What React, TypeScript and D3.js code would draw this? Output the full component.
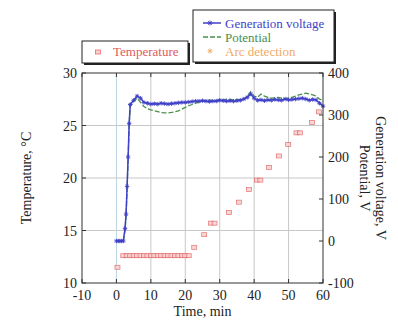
import React from 'react';
import * as d3 from 'd3';

// Temperature readings (°C)
const tempTime = [0.3, 2, 3, 4, 5, 6, 7, 8, 9, 10, 11, 12, 13, 14, 15, 16, 17, 18, 19, 20, 21, 22.6, 25.5, 27.5, 28.5, 32.7, 35.6, 38.5, 40.8, 41.8, 44.3, 47.2, 49.9, 52.3, 53.3, 56.8, 58.8];
const tempValue = [11.5, 12.6, 12.6, 12.6, 12.6, 12.6, 12.6, 12.6, 12.6, 12.6, 12.6, 12.6, 12.6, 12.6, 12.6, 12.6, 12.6, 12.6, 12.6, 12.6, 12.6, 13.4, 14.6, 15.7, 15.7, 16.7, 17.7, 18.9, 19.8, 19.8, 21.0, 22.1, 23.2, 24.3, 24.3, 25.3, 26.3];

// Voltage readings (V)
const voltTime = [0, 0.5, 1, 1.5, 2, 2.5, 2.8, 3.1, 3.4, 3.7, 4, 5, 6, 7, 8, 9, 10, 11, 12, 13, 14, 15, 16, 17, 18, 19, 20, 21, 22, 23, 24, 25, 26, 27, 28, 29, 30, 31, 32, 33, 34, 35, 36, 37, 38, 39, 40, 41, 42, 43, 44, 45, 46, 47, 48, 49, 50, 51, 52, 53, 54, 55, 56, 57, 58, 59, 60];
const generationVoltage = [0, 0, 0, 0, 0, 30, 64, 130, 200, 280, 325, 335, 345, 340, 330, 328, 326, 327, 326, 328, 327, 326, 327, 328, 329, 330, 330, 331, 332, 333, 333, 334, 333, 332, 333, 333, 335, 334, 333, 334, 333, 334, 335, 338, 342, 350, 340, 335, 336, 334, 336, 335, 337, 336, 335, 338, 336, 337, 338, 339, 340, 338, 335, 337, 336, 328, 321];
const potential = [0, 0, 0, 0, 0, 25, 60, 125, 195, 275, 320, 332, 340, 330, 320, 315, 312, 310, 308, 306, 305, 305, 306, 308, 310, 314, 318, 322, 325, 328, 330, 333, 335, 336, 334, 335, 337, 336, 338, 337, 336, 337, 336, 338, 345, 355, 345, 342, 350, 345, 342, 340, 341, 342, 340, 339, 341, 342, 345, 348, 350, 352, 350, 348, 345, 338, 334];

const xTicks = [-10, 0, 10, 20, 30, 40, 50, 60];
const leftTicks = [10, 15, 20, 25, 30];
const rightTicks = [-100, 0, 100, 200, 300, 400];

const RED = '#e05a5a';
const BLUE = '#3f3fc8';
const GREEN = '#4a8f4a';
const ORANGE = '#f0aa66';
const FONT = "'Liberation Serif', 'Times New Roman', 'DejaVu Serif', serif";

const App = () => {
  const W = 398;
  const H = 322;
  const m = { left: 82, right: 323, top: 73, bottom: 283 };

  const x = d3.scaleLinear().domain([-10, 60]).range([m.left, m.right]);
  const yT = d3.scaleLinear().domain([10, 30]).range([m.bottom, m.top]);
  const yV = d3.scaleLinear().domain([-100, 400]).range([m.bottom, m.top]);

  const genLine = d3.line<number>().x((_, i) => x(voltTime[i])).y(d => yV(d))(generationVoltage) || '';
  const potLine = d3.line<number>().x((_, i) => x(voltTime[i])).y(d => yV(d))(potential) || '';

  const star = (cx: number, cy: number, s: number, key: string | number, color: string) => (
    <g key={key} stroke={color} strokeWidth={0.9}>
      <line x1={cx - s} y1={cy} x2={cx + s} y2={cy} />
      <line x1={cx} y1={cy - s} x2={cx} y2={cy + s} />
      <line x1={cx - s * 0.7} y1={cy - s * 0.7} x2={cx + s * 0.7} y2={cy + s * 0.7} />
      <line x1={cx - s * 0.7} y1={cy + s * 0.7} x2={cx + s * 0.7} y2={cy - s * 0.7} />
    </g>
  );

  const ts = { fontFamily: FONT };

  return (
    <svg width={W} height={H} style={{ position: 'absolute', left: 0, top: 0, background: '#fff' }}>
      {/* grid */}
      {xTicks.slice(1, -1).map(t => (
        <line key={'gx' + t} x1={x(t)} x2={x(t)} y1={m.top} y2={m.bottom} stroke={t === 0 ? '#b8d4e0' : '#c8c8c8'} strokeWidth={1} />
      ))}
      {leftTicks.slice(1, -1).map(t => (
        <line key={'gy' + t} x1={m.left} x2={m.right} y1={yT(t)} y2={yT(t)} stroke="#c8c8c8" strokeWidth={1} />
      ))}

      {/* temperature */}
      {tempTime.map((t, i) => (
        <rect key={'t' + i} x={x(t) - 2.5} y={yT(tempValue[i]) - 2} width={5} height={4} fill="#f8d0d0" stroke={RED} strokeWidth={0.7} opacity={0.85} />
      ))}

      {/* potential */}
      <path d={potLine} fill="none" stroke={GREEN} strokeWidth={1.3} strokeDasharray="5,2" />

      {/* generation voltage */}
      <path d={genLine} fill="none" stroke={BLUE} strokeWidth={1.5} />
      {voltTime.map((t, i) => star(x(t), yV(generationVoltage[i]), 2.2, 'g' + i, BLUE))}

      {/* frame */}
      <rect x={m.left} y={m.top} width={m.right - m.left} height={m.bottom - m.top} fill="none" stroke="#333" strokeWidth={1} />

      {/* ticks */}
      {xTicks.map(t => (
        <g key={'xt' + t}>
          <line x1={x(t)} x2={x(t)} y1={m.bottom} y2={m.bottom - 4} stroke="#333" />
          <line x1={x(t)} x2={x(t)} y1={m.top} y2={m.top + 4} stroke="#333" />
          <text x={x(t)} y={m.bottom + 17} textAnchor="middle" fontSize={14} fill="#222" style={ts}>{t}</text>
        </g>
      ))}
      {leftTicks.map(t => (
        <g key={'lt' + t}>
          <line x1={m.left} x2={m.left + 4} y1={yT(t)} y2={yT(t)} stroke="#333" />
          <text x={m.left - 5} y={yT(t) + 5} textAnchor="end" fontSize={14} fill="#222" style={ts}>{t}</text>
        </g>
      ))}
      {rightTicks.map(t => (
        <g key={'rt' + t}>
          <line x1={m.right} x2={m.right - 4} y1={yV(t)} y2={yV(t)} stroke="#333" />
          <text x={m.right + 5} y={yV(t) + 5} textAnchor="start" fontSize={14} fill="#222" style={ts}>{t}</text>
        </g>
      ))}

      {/* axis titles */}
      <text x={(m.left + m.right) / 2} y={316} textAnchor="middle" fontSize={14} fill="#222" style={ts}>Time, min</text>
      <text transform={`translate(31,${(m.top + m.bottom) / 2}) rotate(-90)`} textAnchor="middle" fontSize={14} fill="#222" style={ts}>Temperature, °C</text>
      <text transform={`translate(376,${(m.top + m.bottom) / 2}) rotate(90)`} textAnchor="middle" fontSize={14} fill="#222" style={ts}>Generation voltage, V</text>
      <text transform={`translate(360,${(m.top + m.bottom) / 2}) rotate(90)`} textAnchor="middle" fontSize={14} fill="#222" style={ts}>Potential, V</text>

      {/* legend: temperature */}
      <rect x={84} y={43} width={106} height={22} fill="#222" />
      <rect x={82} y={41} width={106} height={22} fill="#fff" stroke="#222" strokeWidth={1} />
      <rect x={95.5} y={50} width={5} height={4} fill="#f8d0d0" stroke={RED} strokeWidth={0.7} />
      <text x={113} y={56} fontSize={13} fill={RED} style={ts}>Temperature</text>

      {/* legend: voltages */}
      <rect x={195} y={12} width={141} height={52} fill="#222" />
      <rect x={193} y={10} width={141} height={52} fill="#fff" stroke="#222" strokeWidth={1} />
      <line x1={203} x2={221} y1={23} y2={23} stroke={BLUE} strokeWidth={1.5} />
      {star(210, 23, 2.5, 'lg', BLUE)}
      <text x={225} y={27.5} fontSize={13} fill={BLUE} style={ts}>Generation voltage</text>
      <line x1={203} x2={221} y1={37} y2={37} stroke={GREEN} strokeWidth={1.3} strokeDasharray="5,2" />
      <text x={225} y={41.5} fontSize={13} fill={GREEN} style={ts}>Potential</text>
      {star(210, 51, 2.5, 'la', ORANGE)}
      <text x={225} y={55.5} fontSize={13} fill={ORANGE} style={ts}>Arc detection</text>
    </svg>
  );
};

export default App;
